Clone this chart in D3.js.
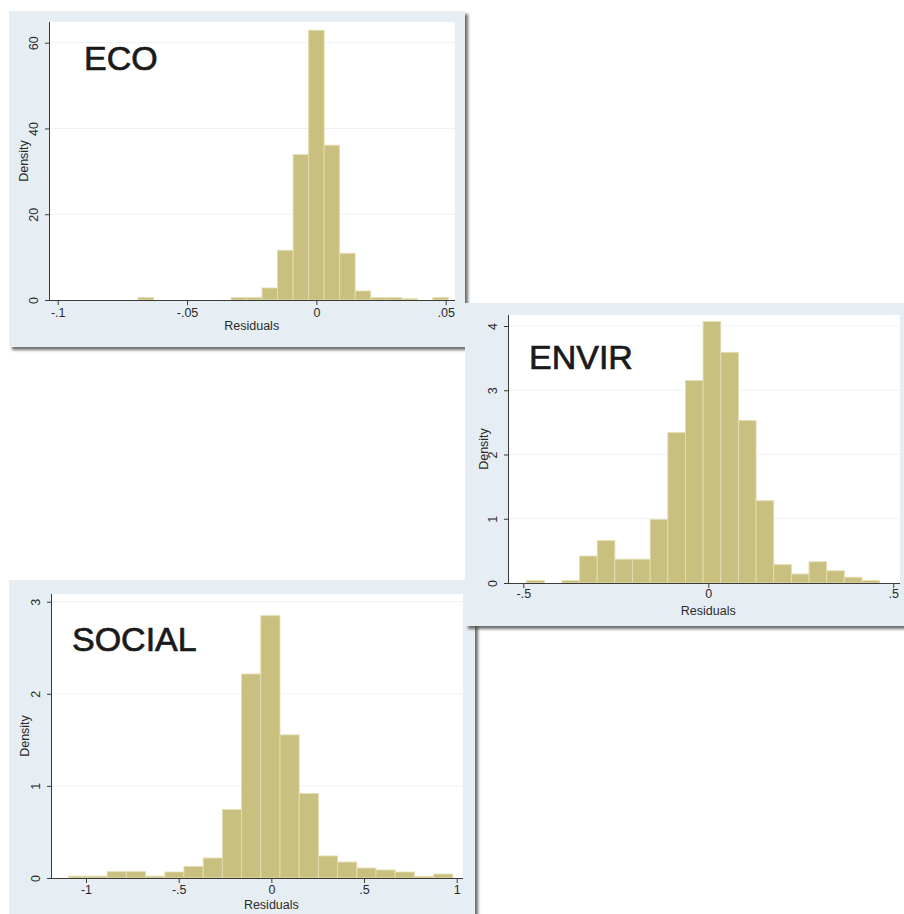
<!DOCTYPE html>
<html>
<head>
<meta charset="utf-8">
<script src="https://cdn.jsdelivr.net/npm/d3@7"></script>
<style>
  html, body { margin: 0; padding: 0; background: #ffffff; }
  svg { display: block; }
  text { font-family: "Liberation Sans", Arial, Helvetica, sans-serif; }
</style>
</head>
<body>
<svg id="chart" width="904" height="914"></svg>
<script>
// ---------------- DATA ----------------
// ECO residual histogram (density), bin edges and bar heights
const ecoEdges = [-0.069, -0.063, -0.057, -0.051, -0.045, -0.039, -0.033, -0.027, -0.021, -0.015,
                  -0.009, -0.003, 0.003, 0.009, 0.015, 0.021, 0.027, 0.033, 0.039, 0.045, 0.051];
const ecoDensity = [0.55, 0, 0, 0, 0, 0, 0.55, 0.55, 2.8, 11.6,
                    33.9, 62.9, 36.1, 10.9, 2.1, 0.55, 0.55, 0.3, 0, 0.55];
const ecoXTicks = [-0.1, -0.05, 0, 0.05];
const ecoXTickLabels = ["-.1", "-.05", "0", ".05"];
const ecoYTicks = [0, 20, 40, 60];
const ecoYTickLabels = ["0", "20", "40", "60"];

// ENVIR residual histogram
const envirEdges = [-0.491, -0.4433, -0.3956, -0.3479, -0.3002, -0.2525, -0.2048, -0.1571, -0.1094, -0.0617,
                    -0.014, 0.0337, 0.0814, 0.1291, 0.1768, 0.2245, 0.2722, 0.3199, 0.3676, 0.4153, 0.463];
const envirDensity = [0.04, 0, 0.04, 0.42, 0.66, 0.37, 0.37, 0.99, 2.34, 3.15,
                      4.07, 3.59, 2.53, 1.28, 0.285, 0.14, 0.33, 0.19, 0.09, 0.04];
const envirXTicks = [-0.5, 0, 0.5];
const envirXTickLabels = ["-.5", "0", ".5"];
const envirYTicks = [0, 1, 2, 3, 4];
const envirYTickLabels = ["0", "1", "2", "3", "4"];

// SOCIAL residual histogram
const socialEdges = [-1.093, -0.9894, -0.8858, -0.7822, -0.6786, -0.575, -0.4714, -0.3678, -0.2642, -0.1606,
                     -0.057, 0.0466, 0.1502, 0.2538, 0.3574, 0.461, 0.5646, 0.6682, 0.7718, 0.8754, 0.979];
const socialDensity = [0.02, 0.02, 0.069, 0.069, 0.02, 0.065, 0.126, 0.217, 0.744, 2.215,
                       2.848, 1.554, 0.918, 0.239, 0.173, 0.108, 0.087, 0.065, 0.018, 0.043];
const socialXTicks = [-1, -0.5, 0, 0.5, 1];
const socialXTickLabels = ["-1", "-.5", "0", ".5", "1"];
const socialYTicks = [0, 1, 2, 3];
const socialYTickLabels = ["0", "1", "2", "3"];

const xAxisTitle = "Residuals";
const yAxisTitle = "Density";

// ---------------- STYLE / LAYOUT ----------------
const panelBg = "#e7eef3";
const barFill = "#c9bf7e";
const barStroke = "#e3ddb2";
const gridColor = "#edf1f4";
const axisColor = "#3a3a3a";
const textColor = "#2a2a2a";

const svg = d3.select("#chart");
const defs = svg.append("defs");
const filt = defs.append("filter").attr("id", "shadow")
  .attr("x", "-10%").attr("y", "-10%").attr("width", "130%").attr("height", "130%");
filt.append("feGaussianBlur").attr("stdDeviation", 1.8);

function drawPanel(cfg) {
  const g = svg.append("g");
  // shadow
  g.append("rect")
    .attr("x", cfg.panel.x + 3).attr("y", cfg.panel.y + 3)
    .attr("width", cfg.panel.w).attr("height", cfg.panel.h)
    .attr("fill", "#4a4a4a").attr("opacity", 0.8)
    .attr("filter", "url(#shadow)");
  // panel background
  g.append("rect")
    .attr("x", cfg.panel.x).attr("y", cfg.panel.y)
    .attr("width", cfg.panel.w).attr("height", cfg.panel.h)
    .attr("fill", panelBg);
  // plot region
  const pr = cfg.plot;
  g.append("rect")
    .attr("x", pr.left).attr("y", pr.top)
    .attr("width", pr.right - pr.left).attr("height", pr.bottom - pr.top)
    .attr("fill", "#ffffff");

  const x = d3.scaleLinear().domain(cfg.xDomain).range(cfg.xRange);
  const y = d3.scaleLinear().domain(cfg.yDomain).range(cfg.yRange);

  // gridlines
  g.append("g").selectAll("line")
    .data(cfg.yTicks.filter(v => v !== 0))
    .join("line")
    .attr("x1", pr.left).attr("x2", pr.right)
    .attr("y1", d => y(d)).attr("y2", d => y(d))
    .attr("stroke", gridColor).attr("stroke-width", 1);

  // bars
  const bins = cfg.density.map((d, i) => ({ x0: cfg.edges[i], x1: cfg.edges[i + 1], v: d }));
  g.append("g").selectAll("rect")
    .data(bins.filter(b => b.v > 0))
    .join("rect")
    .attr("x", d => x(d.x0))
    .attr("width", d => x(d.x1) - x(d.x0))
    .attr("y", d => y(d.v))
    .attr("height", d => y(0) - y(d.v))
    .attr("fill", barFill)
    .attr("stroke", barStroke)
    .attr("stroke-width", 0.9);

  // x axis
  const xAxis = d3.axisBottom(x)
    .tickValues(cfg.xTicks)
    .tickFormat((d, i) => cfg.xTickLabels[i])
    .tickSize(5).tickPadding(cfg.xTickPad).tickSizeOuter(0);
  const xg = g.append("g").attr("transform", `translate(0,${pr.bottom})`).call(xAxis);
  xg.select(".domain").remove();
  xg.append("line").attr("x1", pr.left).attr("x2", pr.right).attr("y1", 0.5).attr("y2", 0.5)
    .attr("stroke", axisColor).attr("stroke-width", 1);
  xg.selectAll(".tick line").attr("stroke", axisColor);
  xg.selectAll(".tick text").attr("fill", textColor).attr("font-size", 12.5)
    .attr("font-family", "Liberation Sans, Arial, sans-serif");

  // y axis
  const yAxis = d3.axisLeft(y)
    .tickValues(cfg.yTicks)
    .tickFormat((d, i) => cfg.yTickLabels[i])
    .tickSize(5).tickSizeOuter(0);
  const yg = g.append("g").attr("transform", `translate(${pr.left},0)`).call(yAxis);
  yg.select(".domain").remove();
  yg.append("line").attr("x1", -0.5).attr("x2", -0.5).attr("y1", pr.top).attr("y2", pr.bottom)
    .attr("stroke", axisColor).attr("stroke-width", 1);
  yg.selectAll(".tick line").attr("stroke", axisColor);
  yg.selectAll(".tick text")
    .attr("x", null).attr("dy", null)
    .attr("transform", "translate(-12,0) rotate(-90)")
    .attr("text-anchor", "middle")
    .attr("dy", "0em")
    .attr("fill", textColor).attr("font-size", 12.5)
    .attr("font-family", "Liberation Sans, Arial, sans-serif");

  // axis titles
  g.append("text")
    .attr("x", (cfg.xRange[0] + cfg.xRange[1]) / 2)
    .attr("y", cfg.xTitleY)
    .attr("text-anchor", "middle")
    .attr("font-size", 12.5)
    .attr("fill", textColor)
    .text(xAxisTitle);
  g.append("text")
    .attr("transform", `translate(${cfg.yTitleX},${(pr.top + pr.bottom) / 2}) rotate(-90)`)
    .attr("text-anchor", "middle")
    .attr("font-size", 12.5)
    .attr("fill", textColor)
    .text(yAxisTitle);

  // big label
  g.append("text")
    .attr("x", cfg.label.x).attr("y", cfg.label.y)
    .attr("font-size", 34)
    .attr("fill", "#1a1a1a")
    .attr("stroke", "#1a1a1a")
    .attr("stroke-width", 0.7)
    .text(cfg.label.text);
}

// ECO panel
drawPanel({
  panel: { x: 9, y: 11, w: 456, h: 336 },
  plot: { left: 50, right: 455, top: 22, bottom: 300 },
  xDomain: [-0.1, 0.05], xRange: [57.7, 445.7],
  yDomain: [0, 60], yRange: [300, 42.7],
  edges: ecoEdges, density: ecoDensity,
  xTicks: ecoXTicks, xTickLabels: ecoXTickLabels,
  yTicks: ecoYTicks, yTickLabels: ecoYTickLabels,
  xTickPad: 3,
  xTitleY: 330, yTitleX: 28,
  label: { text: "ECO", x: 84, y: 70 }
});

// SOCIAL panel
drawPanel({
  panel: { x: 9, y: 580, w: 466, h: 345 },
  plot: { left: 52, right: 463, top: 594, bottom: 878 },
  xDomain: [-1, 1], xRange: [86, 456.7],
  yDomain: [0, 3], yRange: [878, 601.7],
  edges: socialEdges, density: socialDensity,
  xTicks: socialXTicks, xTickLabels: socialXTickLabels,
  yTicks: socialYTicks, yTickLabels: socialYTickLabels,
  xTickPad: 2,
  xTitleY: 909, yTitleX: 29,
  label: { text: "SOCIAL", x: 72, y: 651 }
});

// ENVIR panel
drawPanel({
  panel: { x: 465, y: 303, w: 445, h: 323 },
  plot: { left: 509, right: 900, top: 315, bottom: 583 },
  xDomain: [-0.5, 0.5], xRange: [523.3, 893.3],
  yDomain: [0, 4], yRange: [583, 326],
  edges: envirEdges, density: envirDensity,
  xTicks: envirXTicks, xTickLabels: envirXTickLabels,
  yTicks: envirYTicks, yTickLabels: envirYTickLabels,
  xTickPad: 1,
  xTitleY: 615, yTitleX: 488,
  label: { text: "ENVIR", x: 529, y: 369 }
});
</script>
</body>
</html>
